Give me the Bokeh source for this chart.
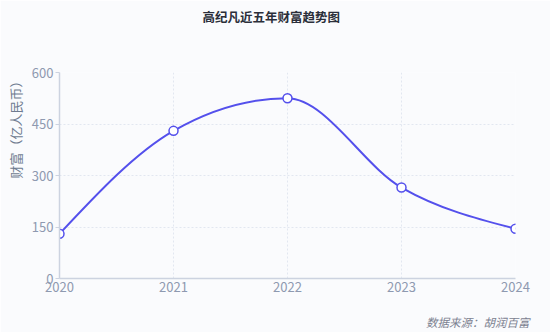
import math
from bokeh.plotting import figure
from bokeh.models import Range1d, Title, FixedTicker
from bokeh.embed import file_html
from bokeh.resources import INLINE

years = [2020, 2021, 2022, 2023, 2024]
wealth = [130, 430, 525, 265, 145]
y_ticks = [0, 150, 300, 450, 600]
title_text = "高纪凡近五年财富趋势图"
y_label = "财富（亿人民币）"
source_text = "数据来源：胡润百富"

W, H = 550, 332
L, R, T, B = 58, 35, 72, 54
X0, X1 = 2020, 2024
Y0, Y1 = 0, 600

LINE = "#5450ec"
TICK = "#8e99b0"
AXIS = "#ccd3e0"
GRID = "#e2e7f0"
BG = "#fafbfd"
FONT = "Noto Sans CJK SC"

p = figure(width=W, height=H, output_backend="svg", toolbar_location=None,
           x_range=Range1d(X0, X1), y_range=Range1d(Y0, Y1),
           min_border_left=L, min_border_right=R, min_border_top=T, min_border_bottom=B)
p.background_fill_color = BG
p.border_fill_color = BG
p.outline_line_color = None

# monotone-x cubic smoothing (bezier control points from the data)
n = len(years)
sec = [(wealth[i + 1] - wealth[i]) / (years[i + 1] - years[i]) for i in range(n - 1)]
slopes = [0.0] * n
for i in range(1, n - 1):
    h0 = years[i] - years[i - 1]
    h1 = years[i + 1] - years[i]
    s0, s1 = sec[i - 1], sec[i]
    pp = (s0 * h1 + s1 * h0) / (h0 + h1)
    sg = (1 if s0 > 0 else -1 if s0 < 0 else 0) + (1 if s1 > 0 else -1 if s1 < 0 else 0)
    slopes[i] = sg * min(abs(s0), abs(s1), 0.5 * abs(pp))
slopes[0] = (3 * sec[0] - slopes[1]) / 2
slopes[-1] = (3 * sec[-1] - slopes[-2]) / 2

x0s, y0s, x1s, y1s, cx0, cy0, cx1, cy1 = [], [], [], [], [], [], [], []
for i in range(n - 1):
    dx = (years[i + 1] - years[i]) / 3
    x0s.append(years[i]); y0s.append(wealth[i])
    x1s.append(years[i + 1]); y1s.append(wealth[i + 1])
    cx0.append(years[i] + dx); cy0.append(wealth[i] + dx * slopes[i])
    cx1.append(years[i + 1] - dx); cy1.append(wealth[i + 1] - dx * slopes[i + 1])

p.bezier(x0=x0s, y0=y0s, x1=x1s, y1=y1s, cx0=cx0, cy0=cy0, cx1=cx1, cy1=cy1,
         line_color=LINE, line_width=2)
p.scatter(years, wealth, marker="circle", size=9, fill_color="white",
          line_color=LINE, line_width=1.5)

# axes
p.xaxis.ticker = FixedTicker(ticks=years)
p.yaxis.ticker = FixedTicker(ticks=y_ticks)
for ax in (p.xaxis, p.yaxis):
    ax.axis_line_color = AXIS
    ax.axis_line_width = 1.5
    ax.major_tick_line_color = AXIS
    ax.minor_tick_line_color = None
    ax.major_label_text_color = TICK
    ax.major_label_text_font = FONT
    ax.major_label_text_font_size = "13px"
    ax.major_tick_in = 0
p.xaxis.major_tick_out = 0
p.xaxis.major_label_standoff = 3
p.yaxis.major_tick_out = 4
p.yaxis.major_label_standoff = 2

for g in (p.xgrid, p.ygrid):
    g.grid_line_color = GRID
    g.grid_line_dash = "2 2"
    g.grid_line_width = 1

p.title.text = ""

# top: blank spacer (next to the plot), then the main title above it
p.add_layout(Title(text=" ", text_font_size="4px", standoff=40), "above")
p.add_layout(Title(text=title_text, align="left", offset=143, standoff=0,
                   text_font=FONT, text_font_size="12.5px", text_font_style="bold",
                   text_color="#2b2f3a"), "above")

p.add_layout(Title(text=y_label, align="right", offset=2, standoff=7,
                   text_font=FONT, text_font_size="13px", text_font_style="normal",
                   text_color="#6f7b90"), "left")

# bottom: blank spacer below the axis, then the source note
p.add_layout(Title(text=" ", text_font_size="4px", standoff=10), "below")
p.add_layout(Title(text=source_text, align="right", offset=-14, standoff=0,
                   text_font=FONT, text_font_size="11.5px", text_font_style="italic",
                   text_color="#7c8190"), "below")

open("out.html", "w").write(file_html(p, INLINE))
